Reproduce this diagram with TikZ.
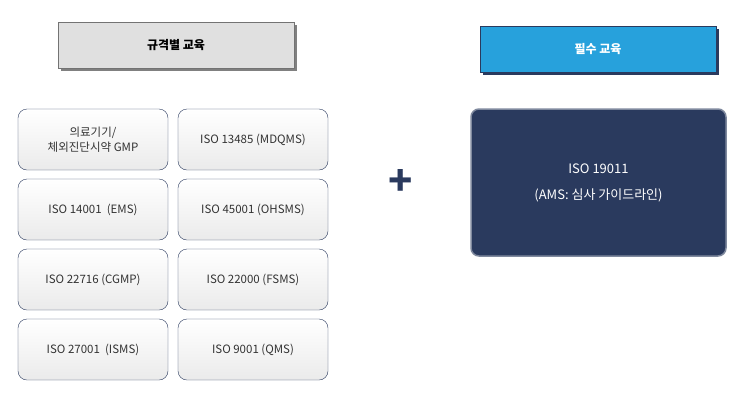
\documentclass[tikz,border=0pt]{standalone}
\usepackage{fontspec}
\setmainfont{Noto Sans CJK KR}
\usetikzlibrary{positioning,shadows}
\definecolor{navy}{HTML}{2A3A5E}
\definecolor{skyblue}{HTML}{27A1DC}
\tikzset{
  head/.style={draw, minimum width=236pt, minimum height=46pt, font=\fontsize{12}{14}\selectfont\bfseries},
  item/.style={draw=navy, rounded corners=9pt, minimum width=150pt, minimum height=61pt,
    top color=white, bottom color=black!8, align=center, font=\fontsize{11.5}{15}\selectfont, text=black!80},
}
\begin{document}
\begin{tikzpicture}[x=1pt,y=-1pt]
        \useasboundingbox (0,0) rectangle (750,400);
        % headers
        \node[head, fill=black!12, draw=black!55, drop shadow={shadow xshift=3pt, shadow yshift=-3pt, fill=black!50, opacity=1}] (spec) at (176,45) {규격별 교육};
        \node[head, fill=skyblue, draw=navy, text=white, drop shadow={shadow xshift=3pt, shadow yshift=-3pt, fill=navy, opacity=1}] (must) at (598,49) {필수 교육};
        
        % standard courses
        \foreach \n/\x/\y/\label in {a/93/139.5/{의료기기/\\체외진단시약 GMP}, b/253/139.5/{ISO 13485 (MDQMS)},
            c/93/209.5/{ISO 14001 \ (EMS)}, d/253/209.5/{ISO 45001 (OHSMS)},
            e/93/279.5/{ISO 22716 (CGMP)}, f/253/279.5/{ISO 22000 (FSMS)},
            g/93/349.5/{ISO 27001 \ (ISMS)}, h/253/349.5/{ISO 9001 (QMS)}} {
            \node[item] (\n) at (\x,\y) {\label};
        }
        
        % plus sign
        \node[text=navy, font=\fontsize{40}{40}\selectfont\bfseries] (plus) at (401,182) {+};
        
        % ISO 19011
        \node[fill=navy, draw=navy!60, line width=1.5pt, rounded corners=8pt, minimum width=255pt, minimum height=147pt,
            align=center, text=white, font=\fontsize{13}{26}\selectfont] (audit) at (598.5,182.5) {ISO 19011\\(AMS: 심사 가이드라인)};
\end{tikzpicture}
\end{document}
